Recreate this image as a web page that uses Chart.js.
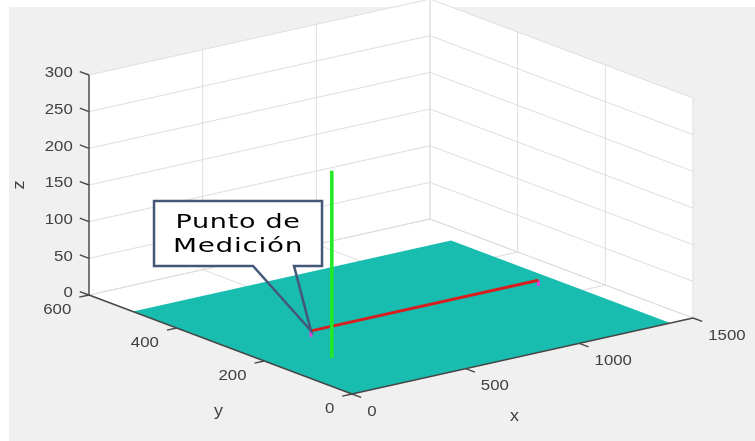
<!DOCTYPE html>
<html>
<head>
<meta charset="utf-8">
<script src="https://cdn.jsdelivr.net/npm/chart.js@4/dist/chart.umd.min.js"></script>
<style>
  html, body { margin: 0; padding: 0; background: #fff; }
  #wrap { position: relative; width: 755px; height: 441px; }
</style>
</head>
<body>
<div id="wrap"><canvas id="chart"></canvas></div>
<script>
// axis ticks (MATLAB style 3D box)
const xTicks = [0, 500, 1000, 1500];
const yTicks = [0, 200, 400, 600];
const zTicks = [0, 50, 100, 150, 200, 250, 300];
const axisTitles = ["x", "y", "z"];

// teal surface at z = 0
const planeX = [0, 1400];
const planeY = [0, 500];
const planeZ = 0;

// red segment along x, green vertical line
const redLineX = [350, 1350];
const redLineY = [275, 275];
const redLineZ = [0, 0];
const greenLineX = [210, 210];
const greenLineY = [155, 155];
const greenLineZ = [0, 255];

const calloutText = ["Punto de", "Medición"];

// view: screen position of (0,0,0) and screen step per data unit of each axis
const view = {
  ox: 352, oy: 394,
  xx: 341 / 1500, xy: -76 / 1500,
  yx: -263 / 600, yy: -99 / 600,
  zy: -220 / 300
};
function proj(x, y, z) {
  return {
    x: view.ox + x * view.xx + y * view.yx,
    y: view.oy + x * view.xy + y * view.yy + z * view.zy
  };
}

const xMin = xTicks[0], xMax = xTicks[xTicks.length - 1];
const yMin = yTicks[0], yMax = yTicks[yTicks.length - 1];
const zMin = zTicks[0], zMax = zTicks[zTicks.length - 1];
const tickY = 21, tickX = 43; // ~10px tick marks

const datasets = [];
function addLine(pts3, color, width) {
  datasets.push({
    data: pts3.map(p => proj(p[0], p[1], p[2])),
    showLine: true,
    borderColor: color,
    borderWidth: width,
    borderCapStyle: "butt",
    pointRadius: 0,
    fill: false,
    order: 1000 - datasets.length
  });
}
function addPoly(pts3, color) {
  const pts = pts3.map(p => proj(p[0], p[1], p[2]));
  let iL = 0, iR = 0;
  pts.forEach((p, i) => {
    if (p.x < pts[iL].x) iL = i;
    if (p.x > pts[iR].x) iR = i;
  });
  const ring = pts.slice(iL).concat(pts.slice(0, iL));
  ring.push(pts[iL], pts[iR]);
  datasets.push({
    data: ring,
    showLine: true,
    borderWidth: 0,
    borderColor: "rgba(0,0,0,0)",
    backgroundColor: color,
    pointRadius: 0,
    fill: "shape",
    order: 1000 - datasets.length
  });
}

// back walls and floor
addPoly([[xMin, yMax, zMin], [xMax, yMax, zMin], [xMax, yMax, zMax], [xMin, yMax, zMax]], "#ffffff");
addPoly([[xMax, yMin, zMin], [xMax, yMax, zMin], [xMax, yMax, zMax], [xMax, yMin, zMax]], "#ffffff");
addPoly([[xMin, yMin, zMin], [xMax, yMin, zMin], [xMax, yMax, zMin], [xMin, yMax, zMin]], "#ffffff");

// grid
const gridColor = "#dedede";
xTicks.forEach(x => {
  addLine([[x, yMin, zMin], [x, yMax, zMin], [x, yMax, zMax]], gridColor, 1);
});
yTicks.forEach(y => {
  addLine([[xMin, y, zMin], [xMax, y, zMin], [xMax, y, zMax]], gridColor, 1);
});
zTicks.forEach(z => {
  addLine([[xMin, yMax, z], [xMax, yMax, z], [xMax, yMin, z]], gridColor, 1);
});

// surface
addPoly([[planeX[0], planeY[0], planeZ], [planeX[1], planeY[0], planeZ],
         [planeX[1], planeY[1], planeZ], [planeX[0], planeY[1], planeZ]], "#18bdb0");

// axes and ticks
const axisColor = "#474747";
addLine([[xMin, yMax, zMin], [xMin, yMax, zMax]], axisColor, 1.4);
addLine([[xMin, yMin, zMin], [xMin, yMax, zMin]], axisColor, 1.4);
addLine([[xMin, yMin, zMin], [xMax, yMin, zMin]], axisColor, 1.4);
zTicks.forEach(z => addLine([[xMin, yMax, z], [xMin, yMax + tickY, z]], axisColor, 1.4));
yTicks.forEach(y => addLine([[xMin, y, zMin], [xMin - tickX, y, zMin]], axisColor, 1.4));
xTicks.forEach(x => addLine([[x, yMin, zMin], [x, yMin - tickY, zMin]], axisColor, 1.4));

// data lines
redLineX.forEach((x, i) => addLine([[x, redLineY[i], redLineZ[i]], [x, redLineY[i], redLineZ[i] - 8]], "#e040e0", 3));
addLine(redLineX.map((x, i) => [x, redLineY[i], redLineZ[i]]), "#d91c1c", 3);
addLine(greenLineX.map((x, i) => [x, greenLineY[i], greenLineZ[i]]), "#22ea22", 3.5);

const background = {
  id: "background",
  beforeDraw(chart) {
    const c = chart.ctx;
    c.save();
    c.fillStyle = "#ffffff";
    c.fillRect(0, 0, chart.width, chart.height);
    c.fillStyle = "#f0f0f0";
    c.fillRect(9, 7, chart.width - 9, chart.height - 7);
    c.restore();
  }
};

function stretched(c, text, x, y, align, sx) {
  c.save();
  c.translate(x, y);
  c.scale(sx, 1);
  c.textAlign = align;
  c.textBaseline = "middle";
  c.fillText(text, 0, 0);
  c.restore();
}

const labels = {
  id: "labels",
  afterDatasetsDraw(chart) {
    const c = chart.ctx;
    const sx = chart.scales.x, sy = chart.scales.y;
    const px = p => ({ x: sx.getPixelForValue(p.x), y: sy.getPixelForValue(p.y) });
    c.save();
    c.fillStyle = "#404040";
    c.font = '15px "Liberation Sans", Arial, sans-serif';
    zTicks.forEach(z => {
      const e = px(proj(xMin, yMax + tickY, z));
      stretched(c, String(z), e.x - 7, e.y + 1.5, "right", 1.12);
    });
    yTicks.forEach(y => {
      const e = px(proj(xMin - tickX, y, zMin));
      stretched(c, String(y), e.x - 8, e.y + 13, "right", 1.12);
    });
    xTicks.forEach(x => {
      const e = px(proj(x, yMin - tickY, zMin));
      stretched(c, String(x), e.x + 6, e.y + 14, "left", 1.12);
    });
    c.font = '16px "Liberation Sans", Arial, sans-serif';
    const tx = px(proj((xMin + xMax) / 2, yMin, zMin));
    stretched(c, axisTitles[0], tx.x - 8, tx.y + 61, "center", 1.12);
    const ty = px(proj(xMin, (yMin + yMax) / 2, zMin));
    stretched(c, axisTitles[1], ty.x - 2, ty.y + 67, "center", 1.12);
    const tz = px(proj(xMin, yMax, (zMin + zMax) / 2));
    c.save();
    c.translate(tz.x - 69, tz.y);
    c.rotate(-Math.PI / 2);
    stretched(c, axisTitles[2], 0, 0, "center", 1.12);
    c.restore();

    // callout
    const tip = px(proj(redLineX[0], redLineY[0], redLineZ[0]));
    const bx = tip.x - 157, by = tip.y - 130, bw = 168, bh = 65;
    c.fillStyle = "#ffffff";
    c.fillRect(bx, by, bw, bh);
    c.strokeStyle = "#44597a";
    c.lineWidth = 2.5;
    c.lineJoin = "miter";
    c.beginPath();
    c.moveTo(tip.x - 58, by + bh);
    c.lineTo(bx, by + bh);
    c.lineTo(bx, by);
    c.lineTo(bx + bw, by);
    c.lineTo(bx + bw, by + bh);
    c.lineTo(tip.x - 17, by + bh);
    c.lineTo(tip.x, tip.y);
    c.closePath();
    c.stroke();
    c.fillStyle = "#000000";
    c.font = '20px "DejaVu Sans", sans-serif';
    c.letterSpacing = "0.5px";
    const widths = [125, 130];
    calloutText.forEach((t, i) => {
      const m = c.measureText(t).width;
      stretched(c, t, bx + bw / 2, by + 22 + i * 24, "center", widths[i] / m);
    });
    c.restore();
  }
};

new Chart(document.getElementById("chart"), {
  type: "scatter",
  data: { datasets },
  options: {
    responsive: true,
    maintainAspectRatio: false,
    animation: false,
    layout: { padding: 0 },
    plugins: { legend: { display: false }, tooltip: { enabled: false } },
    events: [],
    scales: {
      x: { type: "linear", min: 0, max: 755, display: false },
      y: { type: "linear", min: 0, max: 441, reverse: true, display: false }
    }
  },
  plugins: [background, labels]
});
</script>
</body>
</html>
